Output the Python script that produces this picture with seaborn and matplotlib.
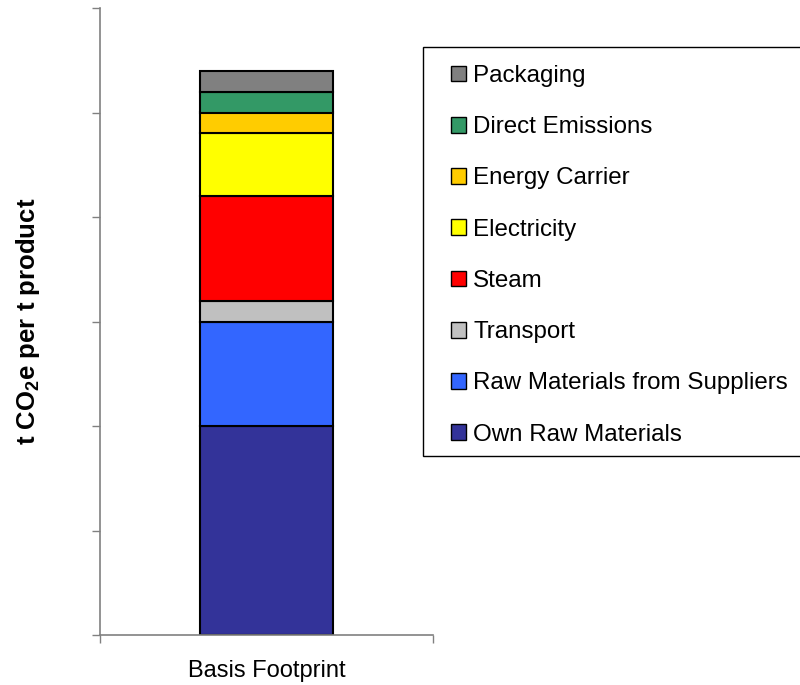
import pandas as pd
import seaborn as sns
import matplotlib.pyplot as plt
from matplotlib.patches import Patch, Rectangle

# Data (stacked from bottom to top)
components = ['Own Raw Materials', 'Raw Materials from Suppliers', 'Transport', 'Steam',
              'Electricity', 'Energy Carrier', 'Direct Emissions', 'Packaging']
values = [2.0, 1.0, 0.2, 1.0, 0.6, 0.2, 0.2, 0.2]
colors = ['#333399', '#3366FF', '#C0C0C0', '#FF0000',
          '#FFFF00', '#FFCC00', '#339966', '#808080']
category = 'Basis Footprint'

sns.set_style('white')
plt.rcParams['font.family'] = ['Liberation Sans', 'DejaVu Sans']
plt.rcParams['mathtext.default'] = 'regular'
plt.rcParams['text.color'] = 'black'
plt.rcParams['xtick.color'] = 'black'

W, H = 800, 685
fig = plt.figure(figsize=(W / 100, H / 100), dpi=100)
ax = fig.add_axes([100 / W, 1 - 635 / H, 333 / W, 627 / H])

df = pd.DataFrame({'component': components, 'value': values, 'color': colors})
bottom = 0.0
for _, row in df.iterrows():
    sns.barplot(x=[category], y=[row['value']], bottom=bottom, color=row['color'],
                width=0.4, edgecolor='black', linewidth=1.5, saturation=1, ax=ax)
    bottom += row['value']

ax.set_ylim(0, 6)
ax.set_xlim(-0.5, 0.5)
ax.set_yticks(range(0, 7))
ax.set_yticklabels([])
ax.tick_params(axis='y', direction='out', length=6, color='#808080', width=1, left=True)

# category label in the middle, tick marks at the category boundaries
ax.set_xticks([0])
ax.set_xticklabels([category], fontsize=17)
ax.tick_params(axis='x', which='major', length=0, pad=18, labelcolor='black')
ax.set_xticks([-0.5, 0.5], minor=True)
ax.tick_params(axis='x', which='minor', direction='out', length=6, color='#808080', width=1, bottom=True)

for side in ['top', 'right']:
    ax.spines[side].set_visible(False)
for side in ['left', 'bottom']:
    ax.spines[side].set_color('#808080')
    ax.spines[side].set_linewidth(1.2)

ax.set_xlabel('')
ax.set_ylabel('t CO$_2$e per t product', fontsize=18.5, fontweight='bold', color='black')
ax.yaxis.set_label_coords(-(100 - 42) / 333, 0.5)

# legend box drawn separately so the entries sit like the original
fig.add_artist(Rectangle((423 / W, 1 - 456 / H), 400 / W, 409 / H, transform=fig.transFigure,
                         facecolor='white', edgecolor='black', linewidth=1, zorder=2))
handles = [Patch(facecolor=c, edgecolor='black', label=l)
           for l, c in zip(components[::-1], colors[::-1])]
leg = fig.legend(handles=handles, loc='upper left', bbox_to_anchor=(451 / W, 1 - 65 / H),
                 fontsize=17.4, frameon=False, labelspacing=1.21,
                 handlelength=0.62, handleheight=0.62, handletextpad=0.3,
                 borderpad=0, borderaxespad=0)
leg.set_zorder(3)

fig.savefig('out.png', dpi=100)
